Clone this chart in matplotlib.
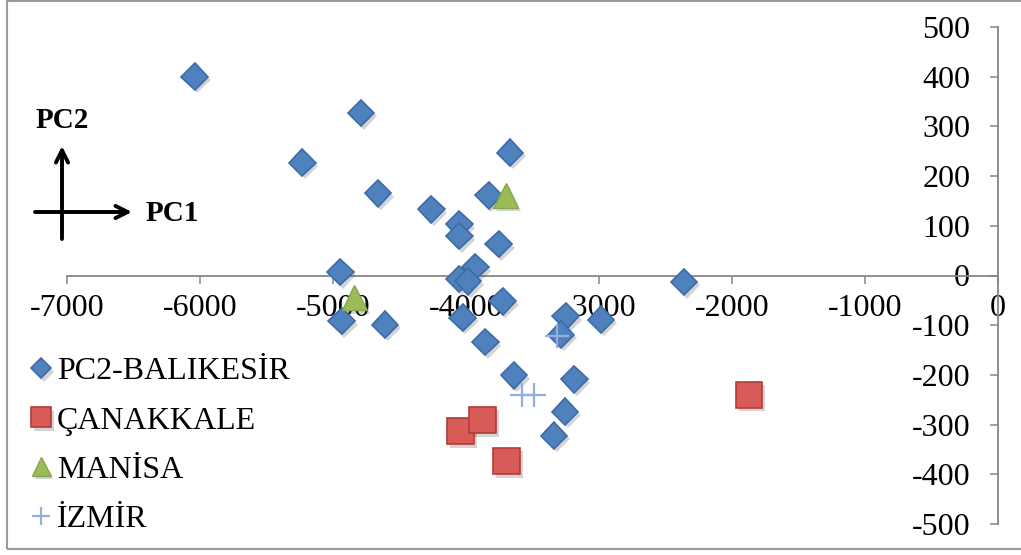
import matplotlib.pyplot as plt
import matplotlib.patheffects as pe
from matplotlib.patches import Rectangle

plt.rcParams['font.family'] = ['Liberation Serif', 'DejaVu Serif']

# PCA scores per province
balikesir_x = [-6040, -4790, -5230, -4660, -4260, -3670, -3830, -4050, -4050, -3755,
               -4945, -3930, -4050, -3985, -2360, -3725, -4935, -4610, -4025, -3250,
               -3285, -2985, -3855, -3640, -3185, -3255, -3340]
balikesir_y = [400, 327, 227, 165, 133, 247, 161, 103, 79, 63,
               7, 17, -7, -12, -13, -52, -92, -99, -85, -82,
               -119, -89, -134, -201, -209, -274, -322]

canakkale_x = [-4040, -3875, -3695, -1870]
canakkale_y = [-313, -291, -373, -240]

manisa_x = [-3700, -4840]
manisa_y = [161, -45]

izmir_x = [-3577, -3485, -3313]
izmir_y = [-241, -241, -121]

x_ticks = [-7000, -6000, -5000, -4000, -3000, -2000, -1000, 0]
y_ticks = [-500, -400, -300, -200, -100, 0, 100, 200, 300, 400, 500]

W, H = 1021, 555
fig = plt.figure(figsize=(W / 100, H / 100), dpi=100)


def fx(px):
    return px / W


def fy(py):
    return 1 - py / H


# chart area border
fig.patches.append(Rectangle((fx(7), fy(549)), fx(1030) - fx(7), fy(1) - fy(549),
                             transform=fig.transFigure, fill=False,
                             edgecolor='#9a9a9a', linewidth=1.5))

ax = fig.add_axes([fx(67), fy(524), fx(998) - fx(67), fy(27) - fy(524)])
ax.set_xlim(-7000, 0)
ax.set_ylim(-500, 500)

grey = '#868686'
ax.spines['top'].set_visible(False)
ax.spines['right'].set_visible(False)
ax.spines['bottom'].set_position(('data', 0))
ax.spines['left'].set_position(('data', 0))
for s in ['bottom', 'left']:
    ax.spines[s].set_color(grey)
    ax.spines[s].set_linewidth(1.3)

ax.set_xticks(x_ticks)
ax.set_yticks(y_ticks)
ax.set_xticklabels([str(v) for v in x_ticks])
ax.set_yticklabels([str(v) for v in y_ticks])
ax.tick_params(axis='x', direction='out', length=6, width=1.1, color=grey,
               labelsize=23, pad=7)
ax.tick_params(axis='y', direction='out', length=6, width=1.1, color=grey,
               labelsize=23, pad=14)

shadow = [pe.SimplePatchShadow(offset=(2, -2.5), alpha=0.25, shadow_rgbFace='#555555'),
          pe.Normal()]

ax.plot(balikesir_x, balikesir_y, linestyle='none', marker='D', markersize=13.5,
        markerfacecolor='#4F81BD', markeredgecolor='#3C6BA8', markeredgewidth=1.2,
        label='PC2-BALIKESİR', path_effects=shadow, zorder=3)
ax.plot(canakkale_x, canakkale_y, linestyle='none', marker='s', markersize=19,
        markerfacecolor='#D95B58', markeredgecolor='#B03C39', markeredgewidth=1.2,
        label='ÇANAKKALE', path_effects=shadow, zorder=4)
ax.plot(manisa_x, manisa_y, linestyle='none', marker='^', markersize=18,
        markerfacecolor='#9BBB59', markeredgecolor='#86A74A', markeredgewidth=1.0,
        label='MANİSA', path_effects=shadow, zorder=5)
ax.plot(izmir_x, izmir_y, linestyle='none', marker='+', markersize=17,
        markeredgecolor='#94AEDD', markeredgewidth=1.6,
        label='İZMİR', zorder=6)

leg = ax.legend(loc='upper left', bbox_to_anchor=(fx(30), fy(357)),
                bbox_transform=fig.transFigure, frameon=False, fontsize=23,
                markerscale=0.75, handlelength=0.7, handletextpad=0.15,
                labelspacing=0.62, borderpad=0, borderaxespad=0)

# PC1 / PC2 direction key
ax.annotate('', xy=(fx(62), fy(146)), xytext=(fx(62), fy(239)),
            xycoords='figure fraction', textcoords='figure fraction',
            arrowprops=dict(arrowstyle='->', lw=2.8, color='black',
                            mutation_scale=22, shrinkA=0, shrinkB=0))
ax.annotate('', xy=(fx(132), fy(212)), xytext=(fx(35), fy(212)),
            xycoords='figure fraction', textcoords='figure fraction',
            arrowprops=dict(arrowstyle='->', lw=2.8, color='black',
                            mutation_scale=22, shrinkA=0, shrinkB=0))
fig.text(fx(62), fy(121), 'PC2', ha='center', va='center',
         fontsize=21, fontweight='bold')
fig.text(fx(146), fy(213), 'PC1', ha='left', va='center',
         fontsize=21, fontweight='bold')

fig.savefig('out.png', dpi=100)
